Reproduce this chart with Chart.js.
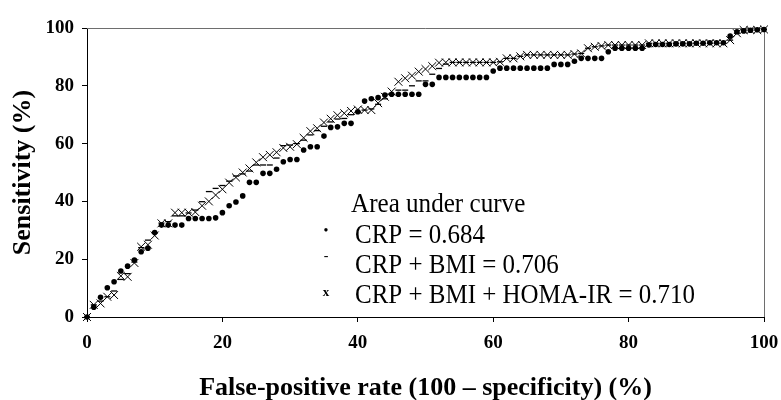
<!DOCTYPE html>
<html>
<head>
<meta charset="utf-8">
<script src="https://cdn.jsdelivr.net/npm/chart.js@4.4.1/dist/chart.umd.min.js"></script>
<style>
  html, body { margin: 0; padding: 0; background: #fff; }
  #wrap { width: 781px; height: 400px; }
</style>
</head>
<body>
<div id="wrap"><canvas id="roc" width="781" height="400"></canvas></div>
<script>
// false-positive rate (100 - specificity), %
const fpr = [
  0, 1, 2, 3, 4, 5, 6, 7, 8, 9, 10, 11, 12, 13, 14, 15, 16, 17, 18, 19,
  20, 21, 22, 23, 24, 25, 26, 27, 28, 29, 30, 31, 32, 33, 34, 35, 36, 37, 38, 39,
  40, 41, 42, 43, 44, 45, 46, 47, 48, 49, 50, 51, 52, 53, 54, 55, 56, 57, 58, 59,
  60, 61, 62, 63, 64, 65, 66, 67, 68, 69, 70, 71, 72, 73, 74, 75, 76, 77, 78, 79,
  80, 81, 82, 83, 84, 85, 86, 87, 88, 89, 90, 91, 92, 93, 94, 95, 96, 97, 98, 99, 100
];

// sensitivity, %
const crp = [
  0, 3.4, 6.8, 10.1, 12.2, 15.9, 17.6, 19.7, 22.6, 23.8, 29.2, 31.8, 31.8, 31.8, 31.8, 34.1, 34.1, 34.1, 34.1, 34.3,
  36.1, 38.5, 39.8, 41.9, 46.6, 46.6, 49.7, 49.7, 51.1, 53.7, 54.5, 54.5, 57.8, 58.9, 58.9, 62.6, 65.6, 65.8, 67, 67,
  71, 74.7, 75.5, 75.9, 76.8, 77.1, 77.1, 77.1, 77.1, 77.1, 80.5, 80.5, 82.9, 82.9, 82.9, 82.9, 82.9, 82.9, 82.9, 82.9,
  85.1, 86.1, 86.1, 86.1, 86.1, 86.1, 86.1, 86.1, 86.1, 87.4, 87.4, 87.4, 88.5, 89.5, 89.5, 89.5, 89.5, 91.8, 93, 93,
  93, 93, 93, 94.1, 94.3, 94.3, 94.3, 94.5, 94.5, 94.5, 94.7, 94.7, 94.9, 94.9, 94.9, 97.2, 98.7, 99, 99.2, 99.4, 99.5
];

const crpBmi = [
  0, 4.2, 5.5, 7, 9, 13, 15, 19, 24, 26.6, 29, 32.5, 33, 35, 35, 36, 37, 39.9, 43.4, 44.5,
  45.5, 47, 48.8, 49.5, 50.5, 52.6, 52.6, 52.6, 55, 59.3, 59.5, 60, 61.2, 63, 64.5, 66, 67.5, 68.5, 68.7, 70,
  71, 71.6, 72, 73.6, 75.5, 77, 78.5, 78.5, 80, 81.7, 81.7, 84, 86, 87.5, 88.1, 88.1, 88.1, 88.1, 88.1, 88.1,
  88.1, 88.3, 89.5, 89.5, 90.2, 90.7, 90.7, 90.7, 90.7, 90.7, 90.7, 90.7, 91, 91.2, 93, 93.5, 93.8, 94.1, 94.1, 94.1,
  94.1, 94.1, 94.1, 94.7, 94.7, 94.7, 94.7, 94.7, 94.7, 94.7, 94.7, 94.7, 94.7, 94.7, 94.7, 95.8, 98.2, 99.3, 99.3, 99.3, 99.5
];

const crpBmiHoma = [
  0, 4.2, 4.7, 7, 7.6, 14.2, 13.9, 18.7, 24.3, 25, 28.2, 32.4, 32.4, 36.1, 36.1, 36.1, 36.3, 38.5, 40, 42.2,
  44.2, 46.5, 48.3, 50, 51.4, 53.5, 55.3, 56.1, 57, 58.5, 58.9, 59.8, 62, 64.3, 65.3, 67.3, 68.6, 69.8, 70.5, 71.3,
  71.8, 71.6, 71.6, 74, 76.2, 78, 81.4, 82.6, 83.5, 84.9, 85.8, 86.8, 88, 88.1, 88.1, 88.1, 88.1, 88.1, 88.1, 88.1,
  88.1, 88.3, 89.5, 89.5, 90.2, 90.7, 90.7, 90.7, 90.7, 90.7, 90.7, 90.7, 91, 91.2, 93, 93.5, 93.8, 94.1, 94.1, 94.1,
  94.1, 94.1, 94.1, 94.7, 94.7, 94.7, 94.7, 94.7, 94.7, 94.7, 94.7, 94.7, 94.7, 94.7, 94.7, 95.8, 98.2, 99.3, 99.3, 99.3, 99.5
];

const axisTicks = [0, 20, 40, 60, 80, 100];

const legendTitle = 'Area under curve';
const legendMarks = ['•', '-', 'x'];
const legendLabels = ['CRP = 0.684', 'CRP + BMI = 0.706', 'CRP + BMI + HOMA-IR = 0.710'];

const SERIF = '"Liberation Serif", "Times New Roman", Times, serif';

const toPoints = ys => fpr.map((x, i) => ({ x, y: ys[i] }));

// ─── frame + in-plot legend ────────────────────────────────
const framePlugin = {
  id: 'frame',
  beforeDatasetsDraw(chart) {
    const { ctx, chartArea: a } = chart;
    ctx.save();
    ctx.strokeStyle = '#6e6e6e';
    ctx.lineWidth = 1;
    ctx.beginPath();
    ctx.moveTo(a.left, a.top + 0.5);
    ctx.lineTo(a.right + 0.5, a.top + 0.5);
    ctx.lineTo(a.right + 0.5, a.bottom);
    ctx.stroke();
    ctx.restore();
  }
};

// the original type is a little narrower than Times, so squeeze it sideways
function squeezedText(ctx, text, x, y, sx) {
  ctx.save();
  ctx.translate(x, y);
  ctx.scale(sx, 1);
  ctx.fillText(text, 0, 0);
  ctx.restore();
}

const aucLegend = {
  id: 'aucLegend',
  afterDraw(chart) {
    const { ctx } = chart;
    const rows = [243, 273, 303];
    ctx.save();
    ctx.fillStyle = '#000';
    ctx.textBaseline = 'alphabetic';
    ctx.font = '27px ' + SERIF;
    squeezedText(ctx, legendTitle, 351, 212, 0.93);
    legendLabels.forEach((t, i) => squeezedText(ctx, t, 355, rows[i], 0.925));
    ctx.textAlign = 'center';
    ctx.font = '14px ' + SERIF;
    ctx.fillText(legendMarks[0], 326, rows[0] - 8);
    ctx.fillText(legendMarks[1], 326, rows[1] - 13);
    ctx.font = 'bold 13px ' + SERIF;
    ctx.fillText(legendMarks[2], 326, rows[2] - 7);
    ctx.restore();
  }
};

const tickFont = { family: SERIF, size: 19, weight: 'bold' };
const titleFont = { family: SERIF, size: 26, weight: 'bold', lineHeight: 0.9 };

new Chart(document.getElementById('roc'), {
  type: 'scatter',
  data: {
    datasets: [
      { label: 'CRP', data: toPoints(crp), pointStyle: 'circle', pointRadius: 2.8,
        backgroundColor: '#000', borderColor: '#000', borderWidth: 0, order: 1, clip: false },
      { label: 'CRP + BMI', data: toPoints(crpBmi), pointStyle: 'line', pointRadius: 3,
        backgroundColor: '#000', borderColor: '#000', borderWidth: 1.3, order: 2, clip: false },
      { label: 'CRP + BMI + HOMA-IR', data: toPoints(crpBmiHoma), pointStyle: 'crossRot', pointRadius: 5.6,
        backgroundColor: '#000', borderColor: '#000', borderWidth: 1, order: 3, clip: false }
    ]
  },
  options: {
    responsive: false,
    animation: false,
    events: [],
    layout: { padding: { top: 28, right: 17, left: 0, bottom: 0 } },
    plugins: { legend: { display: false }, tooltip: { enabled: false } },
    scales: {
      x: {
        type: 'linear', min: 0, max: 100,
        afterBuildTicks: s => { s.ticks = axisTicks.map(v => ({ value: v })); },
        ticks: { font: tickFont, color: '#000', padding: 10, maxRotation: 0 },
        grid: { drawOnChartArea: false, tickLength: 5, color: '#000' },
        border: { color: '#000', width: 1 },
        title: { display: true, text: 'False-positive rate (100 – specificity) (%)',
          font: titleFont, color: '#000', padding: { top: 0, bottom: 0 } },
        afterFit: s => { s.height = 83; s.paddingLeft = 0; s.paddingRight = 0; }
      },
      y: {
        type: 'linear', min: 0, max: 100,
        afterBuildTicks: s => { s.ticks = axisTicks.map(v => ({ value: v })); },
        ticks: { font: tickFont, color: '#000', padding: 8 },
        grid: { drawOnChartArea: false, tickLength: 5, color: '#000' },
        border: { color: '#000', width: 1 },
        title: { display: true, text: 'Sensitivity (%)',
          font: titleFont, color: '#000', padding: { top: 12, bottom: 0 } },
        afterFit: s => { s.width = 87; s.paddingTop = 0; s.paddingBottom = 0; }
      }
    }
  },
  plugins: [framePlugin, aucLegend]
});
</script>
</body>
</html>
